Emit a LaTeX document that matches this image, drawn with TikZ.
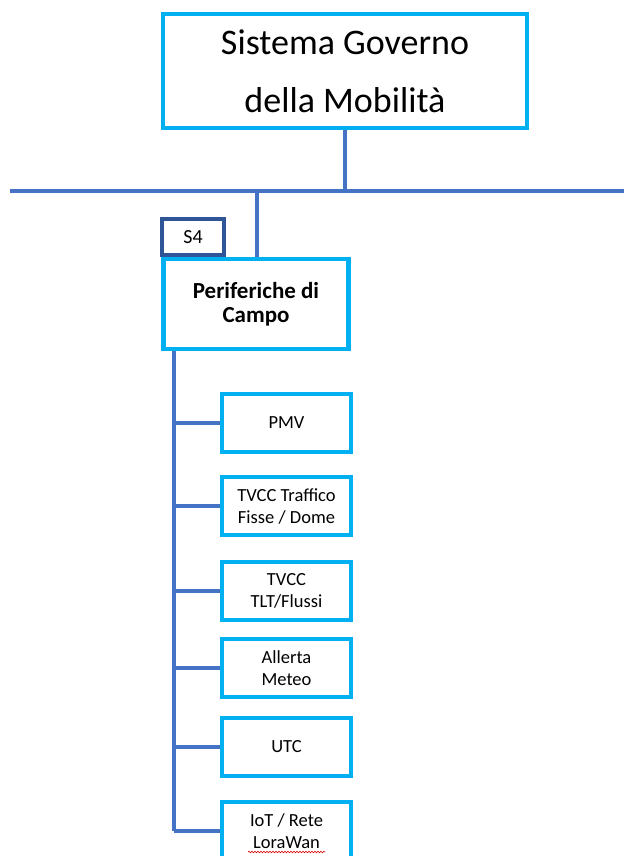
\documentclass[tikz,border=0pt]{standalone}
\usepackage{fontspec}
\setmainfont{Carlito}
\usetikzlibrary{decorations.pathmorphing,backgrounds}
\definecolor{boxcyan}{HTML}{00B0F0}
\definecolor{linkblue}{HTML}{4472C4}
\definecolor{tagblue}{HTML}{2F5597}
\tikzset{
  cyanbox/.style={draw=boxcyan, line width=4.4pt, fill=white, align=center, inner sep=0pt},
  tagbox/.style={draw=tagblue, line width=3.4pt, fill=white, align=center, inner sep=0pt,
    minimum width=62pt, minimum height=36pt, font=\fontsize{20}{22}\selectfont},
  childbox/.style={cyanbox, minimum width=129pt, minimum height=58pt,
    font=\fontsize{18.5}{22}\selectfont},
  link/.style={draw=linkblue, line width=3.2pt}
}
\begin{document}
\begin{tikzpicture}[x=1pt, y=-1pt]
\useasboundingbox (0,0) rectangle (624,856);
\clip (0,0) rectangle (624,856);

% bus, its drop point and the trunk head
\coordinate (busL) at (10,191);
\coordinate (busR) at (624,191);
\coordinate (drop) at (257,191);
\coordinate (trunk) at (174,350);

% top system box
\node[cyanbox, minimum width=364pt, minimum height=114pt,
      font=\fontsize{36}{58}\selectfont] (top) at (345,71)
  {Sistema Governo\\della Mobilità};

% field peripherals block with its tag
\node[cyanbox, minimum width=185pt, minimum height=90pt,
      font=\fontsize{23}{24}\selectfont\bfseries] (peri) at (256,304)
  {Periferiche di\\Campo};
\node[tagbox] (tag) at (193,237) {S4};

% children
\node[childbox] (pmv)  at (286.5,423) {PMV};
\node[childbox] (tvcc) at (286.5,506) {TVCC Traffico\\Fisse / Dome};
\node[childbox] (tlt)  at (286.5,591) {TVCC\\TLT/Flussi};
\node[childbox] (met)  at (286.5,668) {Allerta\\Meteo};
\node[childbox] (utc)  at (286.5,747) {UTC};
\node[childbox] (iot)  at (286.5,831) {IoT / Rete\\LoraWan};

% connectors, drawn behind the boxes
\begin{pgfonlayer}{background}
\draw[link] (busL) -- (busR);
\draw[link] (top.center) -- (top.center |- busL);
\draw[link] (drop) -- (drop |- peri.center);
\draw[link] (trunk |- peri.center) -- (trunk |- iot.west);
\foreach \c in {pmv,tvcc,tlt,met,utc,iot}
  \draw[link] (\c.west -| trunk) -- (\c.center);
\end{pgfonlayer}

% spell-check underline under LoraWan
\coordinate (sqA) at (248,852);
\coordinate (sqB) at (325,852);
\draw[red!85!black, line width=0.6pt,
      decorate, decoration={snake, amplitude=0.8pt, segment length=3pt}]
  (sqA) -- (sqB);
\end{tikzpicture}
\end{document}
